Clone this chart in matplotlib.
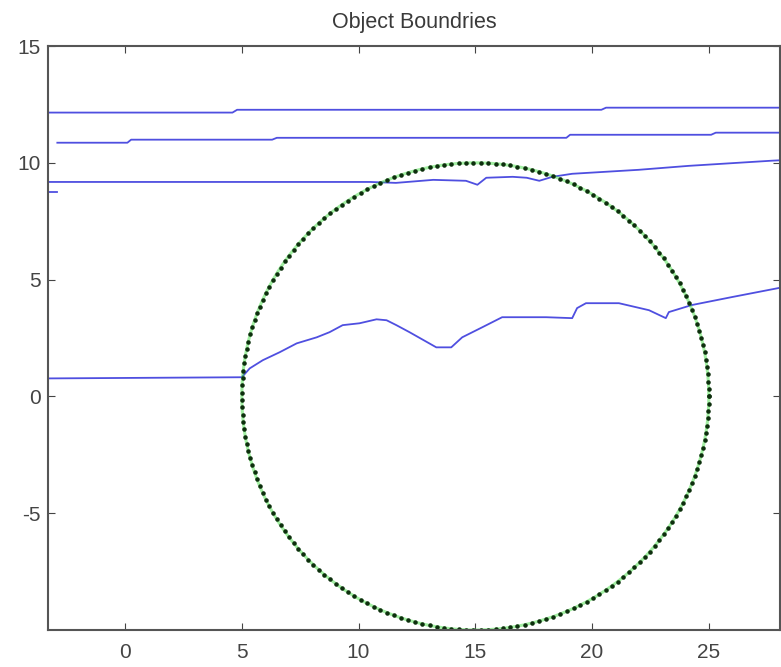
import numpy as np
import matplotlib.pyplot as plt

# boundary traces (x, y)
b1_x = [-3.3, 4.6, 4.8, 20.4, 20.6, 28.1]
b1_y = [12.15, 12.15, 12.27, 12.27, 12.36, 12.36]

b2_x = [-2.9, 0.1, 0.26, 6.3, 6.5, 18.9, 19.06, 25.1, 25.3, 28.1]
b2_y = [10.86, 10.86, 10.99, 10.99, 11.07, 11.07, 11.2, 11.2, 11.29, 11.29]

b3_x = [-3.3, 10.5, 11.6, 13.2, 14.6, 15.09, 15.47, 16.6, 17.2, 17.74, 18.3, 19.15, 22.0, 24.15, 27.7, 28.1]
b3_y = [9.18, 9.18, 9.14, 9.27, 9.23, 9.06, 9.36, 9.40, 9.36, 9.23, 9.40, 9.53, 9.70, 9.87, 10.09, 10.11]

b4_x = [-3.3, -2.9]
b4_y = [8.76, 8.76]

b5_x = [-3.3, 5.0, 5.34, 5.9, 6.62, 7.35, 8.21, 8.76, 9.32, 10.04, 10.77, 11.2, 11.62,
        12.18, 13.03, 13.33, 13.97, 14.44, 15.3, 16.15, 18.03, 19.15, 19.36, 19.74,
        21.15, 22.44, 23.16, 23.29, 24.27, 25.98, 28.1]
b5_y = [0.77, 0.82, 1.2, 1.55, 1.89, 2.27, 2.53, 2.75, 3.05, 3.13, 3.3, 3.26, 3.05,
        2.75, 2.27, 2.1, 2.1, 2.53, 2.96, 3.39, 3.39, 3.35, 3.78, 3.99,
        3.99, 3.69, 3.35, 3.61, 3.91, 4.25, 4.66]

# fitted circle
cx, cy, radius = 15, 0, 10
n_pts = 200

fig = plt.figure(figsize=(7.81, 6.67), dpi=100)
ax = fig.add_axes([48 / 781, 37 / 667, 732 / 781, 584 / 667])

line_col = '#4f4fe0'
for xs, ys in [(b1_x, b1_y), (b2_x, b2_y), (b3_x, b3_y), (b4_x, b4_y), (b5_x, b5_y)]:
    ax.plot(xs, ys, color=line_col, lw=1.3)

t = np.linspace(0, 2 * np.pi, n_pts)
ax.plot(cx + radius * np.cos(t), cy + radius * np.sin(t), color='#33dd33', lw=2.2, alpha=0.45)
ax.plot(cx + radius * np.cos(t), cy + radius * np.sin(t), '.', color='#0d2f0d', ms=4.5)

ax.set_xlim(-3.3, 28.05)
ax.set_ylim(-10, 15)
ax.set_xticks([0, 5, 10, 15, 20, 25])
ax.set_yticks([-5, 0, 5, 10, 15])
ax.set_yticklabels(['-5', '0', '5', '10', '15'])
ax.tick_params(direction='in', length=5, top=True, right=True, labelsize=15,
               colors='#444444')
ax.tick_params(axis='x', pad=9)
ax.tick_params(axis='y', pad=5)
for s in ax.spines.values():
    s.set_color('#555555')
    s.set_linewidth(1.5)
for lab in ax.get_xticklabels() + ax.get_yticklabels():
    lab.set_family('Liberation Sans')

ax.set_title('Object Boundries', fontsize=15.5, color='#3a3a3a', family='Liberation Sans', pad=13)

fig.savefig('out.png', dpi=100)
